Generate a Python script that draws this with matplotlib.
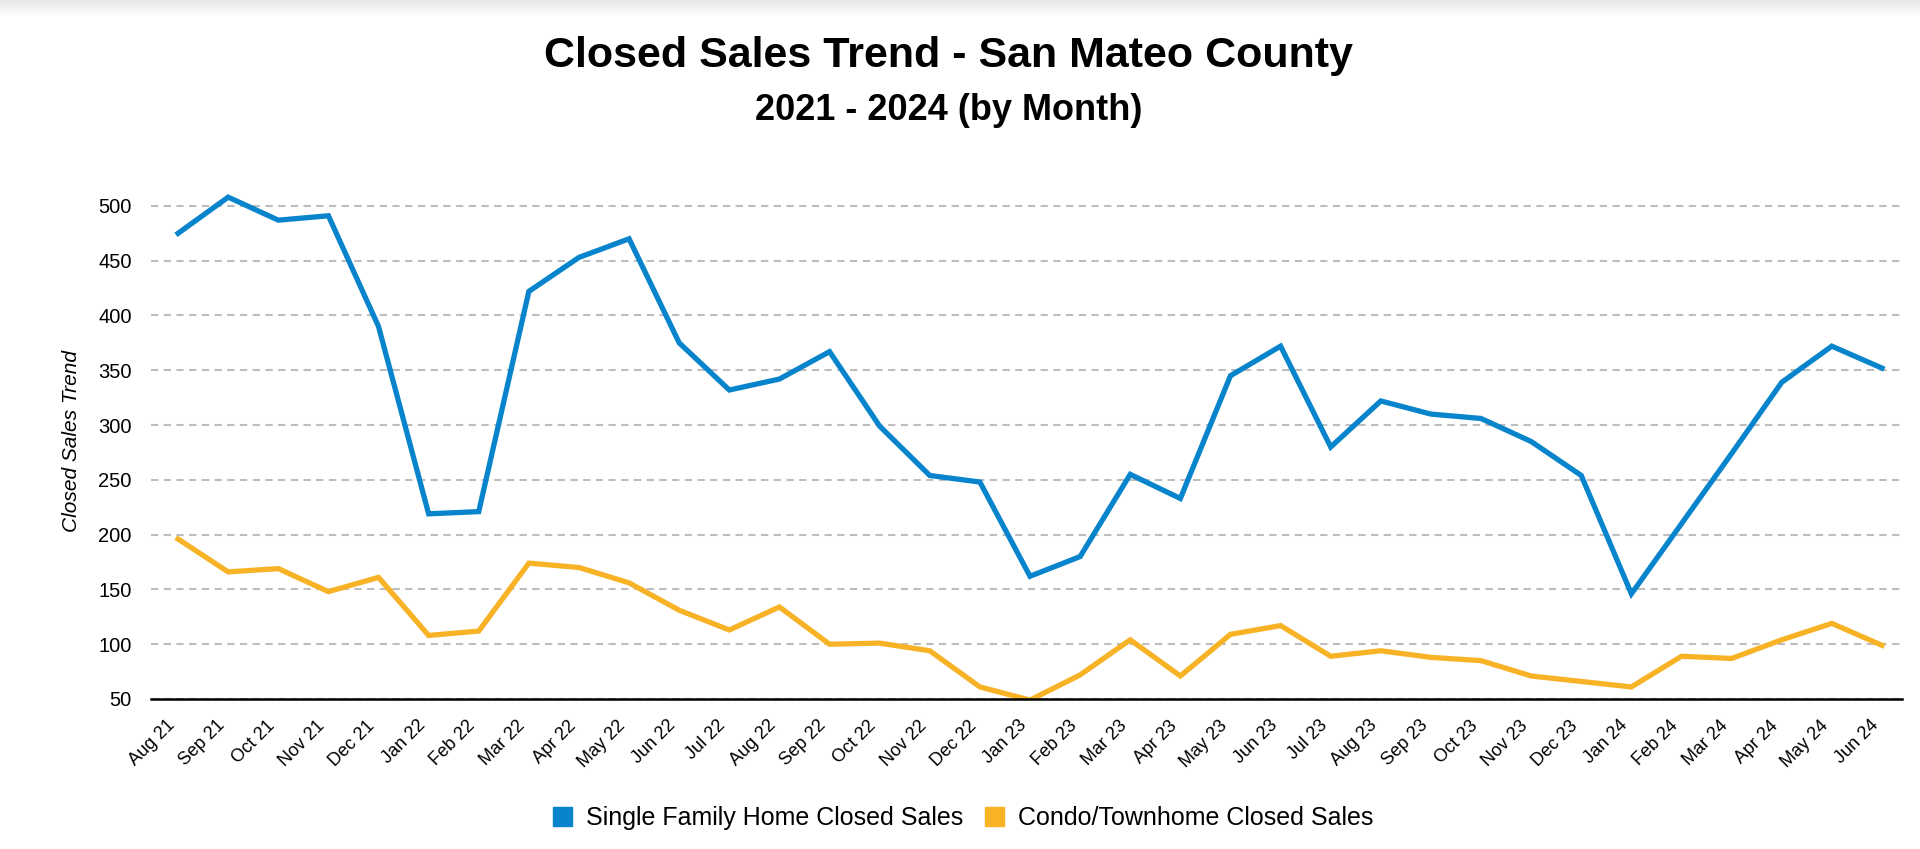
import numpy as np
import matplotlib
matplotlib.use("Agg")
import matplotlib.pyplot as plt
from matplotlib.patches import Patch

plt.rcParams['font.family'] = ['Liberation Sans', 'DejaVu Sans']

months = ['Aug 21', 'Sep 21', 'Oct 21', 'Nov 21', 'Dec 21',
          'Jan 22', 'Feb 22', 'Mar 22', 'Apr 22', 'May 22', 'Jun 22', 'Jul 22',
          'Aug 22', 'Sep 22', 'Oct 22', 'Nov 22', 'Dec 22',
          'Jan 23', 'Feb 23', 'Mar 23', 'Apr 23', 'May 23', 'Jun 23', 'Jul 23',
          'Aug 23', 'Sep 23', 'Oct 23', 'Nov 23', 'Dec 23',
          'Jan 24', 'Feb 24', 'Mar 24', 'Apr 24', 'May 24', 'Jun 24']

sfh_sales = [475, 508, 487, 491, 390, 219, 221, 422, 453, 470, 375, 332,
             342, 367, 299, 254, 248, 162, 180, 255, 233, 345, 372, 280,
             322, 310, 306, 285, 254, 146, 210, 274, 339, 372, 352]

condo_sales = [196, 166, 169, 148, 161, 108, 112, 174, 170, 156, 131, 113,
               134, 100, 101, 94, 61, 49, 72, 104, 71, 109, 117, 89,
               94, 88, 85, 71, 66, 61, 89, 87, 104, 119, 99]

y_ticks = [50, 100, 150, 200, 250, 300, 350, 400, 450, 500]

blue = '#0784cb'
gold = '#f8b226'

fig = plt.figure(figsize=(19.2, 8.49), dpi=100)

# light grey band at the very top
top = fig.add_axes([0, 1 - 16 / 849, 1, 16 / 849])
top.imshow(np.linspace(0.90, 1.0, 50).reshape(-1, 1), aspect='auto',
           cmap='gray', vmin=0, vmax=1, extent=(0, 1, 0, 1))
top.axis('off')

ax = fig.add_axes([151 / 1920, 1 - 699 / 849, (1902 - 151) / 1920, (699 - 184) / 849])

x = np.arange(len(months))
ax.plot(x, sfh_sales, color=blue, lw=3.8, solid_joinstyle='miter', zorder=3)
ax.plot(x, condo_sales, color=gold, lw=3.8, solid_joinstyle='miter', zorder=3)

ax.set_xlim(-0.54, len(months) - 1 + 0.4)
ax.set_ylim(50, 520)
ax.set_yticks(y_ticks)
ax.set_yticklabels([str(v) for v in y_ticks], fontsize=14.5)
ax.set_xticks(x)
ax.set_xticklabels(months, rotation=45, ha='right', fontsize=13)
ax.tick_params(axis='y', length=0, pad=14)
ax.tick_params(axis='x', length=0, pad=13)

for v in y_ticks:
    ax.axhline(v, color='#bdbdbd', lw=1.5, dashes=(3.5, 2.6), zorder=1)

for s in ['top', 'right', 'left']:
    ax.spines[s].set_visible(False)
ax.spines['bottom'].set_color('black')
ax.spines['bottom'].set_linewidth(1.8)
ax.spines['bottom'].set_zorder(4)

ax.set_ylabel('Closed Sales Trend', fontsize=15, style='italic', labelpad=12)

fig.text(0.494, 1 - 56 / 849, 'Closed Sales Trend - San Mateo County',
         ha='center', va='center', fontsize=31, fontweight='bold')
fig.text(0.494, 1 - 110 / 849, '2021 - 2024 (by Month)',
         ha='center', va='center', fontsize=26, fontweight='bold')

handles = [Patch(color=blue, label='Single Family Home Closed Sales'),
           Patch(color=gold, label='Condo/Townhome Closed Sales')]
fig.legend(handles=handles, loc='center', bbox_to_anchor=(0.5016, 1 - 818 / 849),
           ncol=2, frameon=False, fontsize=18, handlelength=0.76, handleheight=0.76,
           handletextpad=0.56, columnspacing=0.9, borderpad=0)

fig.savefig('out.png', dpi=100)
